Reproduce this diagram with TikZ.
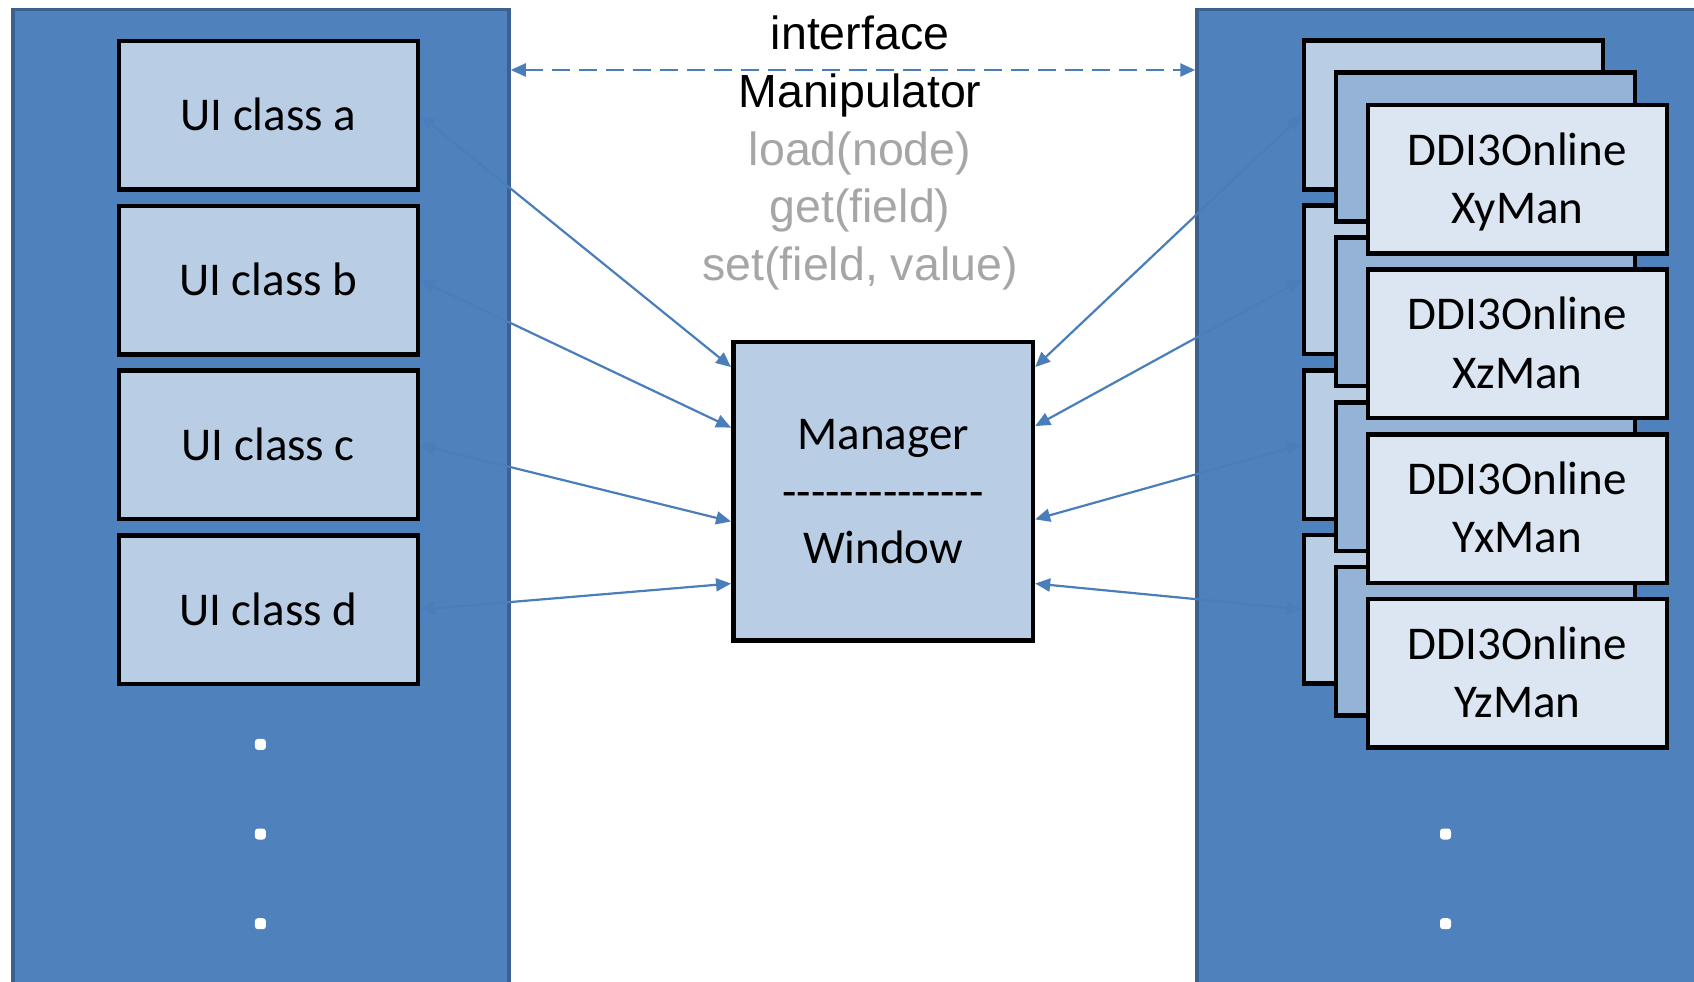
\documentclass[tikz,border=0pt]{standalone}
\usepackage{fontspec}
\setmainfont{Carlito}
\newfontfamily\arialf{Liberation Sans}
\usetikzlibrary{arrows.meta,calc}
\definecolor{panelfill}{HTML}{4F81BD}
\definecolor{panelline}{HTML}{3A6190}
\definecolor{boxA}{HTML}{B9CDE5}
\definecolor{boxB}{HTML}{95B3D7}
\definecolor{boxC}{HTML}{DCE6F2}
\definecolor{conn}{HTML}{4A7EBB}
\definecolor{graytxt}{HTML}{A6A6A6}
\newcommand\hy{\mbox{-}}
\begin{document}
\begin{tikzpicture}[x=1pt,y=-1pt,
  panel/.style={fill=panelfill,draw=panelline,line width=3.5pt,inner sep=0pt},
  cbox/.style={draw=black,line width=4.5pt,minimum width=299pt,minimum height=148.5pt,inner sep=0pt,fill=#1},
  cal/.style={font=\fontsize{47}{57}\selectfont,inner sep=0pt},
  arl/.style={font=\arialf\fontsize{46.5}{56}\selectfont,inner sep=0pt,anchor=base},
  lbl/.style={cal,anchor=base},
  connector/.style={draw=conn,line width=2.2pt,{Triangle[length=15pt,width=13pt]}-{Triangle[length=15pt,width=13pt]}},
  dashconn/.style={connector,line width=2.5pt,dash pattern=on 18pt off 9pt},
  dotn/.style={fill=white,inner sep=0pt,minimum size=11pt,rounded corners=3pt}
]
\useasboundingbox (0,0) rectangle (1694,982);
\clip (0,0) rectangle (1694,982);

% panels
\node[panel,minimum width=496pt,minimum height=990pt] (lp) at (261,504.5) {};
\node[panel,minimum width=523pt,minimum height=990pt] (rp) at (1458.5,504.5) {};

% UI class boxes
\foreach \t [count=\i from 0] in {a,b,c,d}{
  \node[cbox=boxA,cal,text height=31pt,text depth=0pt] (ui\i) at (268.25,115.2+164.8*\i) {UI class \t};
}

% stacked manager boxes
\foreach \i in {0,1,2,3}{
  \node[cbox=boxA] (bk\i) at (1453.6,115+164.8*\i) {};
}
\foreach \i in {0,1,2,3}{
  \node[cbox=boxB] (md\i) at (1485.4,147+164.8*\i) {};
}
\foreach \n [count=\i from 0] in {XyMan,XzMan,YxMan,YzMan}{
  \node[cbox=boxC] (fr\i) at (1517.3,179+164.8*\i) {};
  \node[lbl] (fa\i) at (1517.3,165+164.8*\i) {DDI3Online};
  \node[lbl] (fb\i) at (1517.3,223.3+164.8*\i) {\n};
}

% manager window
\node[cbox=boxA,minimum width=299.6pt,minimum height=298.3pt] (mgr) at (883.1,491.2) {};
\node[lbl] (mg1) at (883.1,449.7) {Manager};
\node[lbl] (mg2) at (883.1,507) {\hy\hy\hy\hy\hy\hy\hy\hy\hy\hy\hy\hy\hy\hy};
\node[lbl] (mg3) at (883.1,563.8) {Window};

% interface text
\node[arl] (if1) at (860,50) {interface};
\node[arl] (if2) at (860,107.5) {Manipulator};
\node[arl,text=graytxt] (if3) at (860,165) {load(node)};
\node[arl,text=graytxt] (if4) at (860,222.5) {get(field)};
\node[arl,text=graytxt] (if5) at (860,280) {set(field, value)};

% dashed interface arrow
\coordinate (lvl) at (0,70);
\draw[dashconn] (lp.east |- lvl) -- (rp.west |- lvl);

% connectors
\draw[connector] (ui0.east) -- ($(mgr.north west)!0.09!(mgr.south west)$);
\draw[connector] (ui1.east) -- ($(mgr.north west)!0.29!(mgr.south west)$);
\draw[connector] (ui2.east) -- ($(mgr.north west)!0.6!(mgr.south west)$);
\draw[connector] (ui3.east) -- ($(mgr.north west)!0.805!(mgr.south west)$);
\draw[connector] (bk0.west) -- ($(mgr.north east)!0.09!(mgr.south east)$);
\draw[connector] (bk1.west) -- ($(mgr.north east)!0.285!(mgr.south east)$);
\draw[connector] (bk2.west) -- ($(mgr.north east)!0.593!(mgr.south east)$);
\draw[connector] (bk3.west) -- ($(mgr.north east)!0.805!(mgr.south east)$);

% dots
\node[dotn] (ld1) at (260.4,744.4) {};
\node[dotn] (ld2) at (260.4,834) {};
\node[dotn] (ld3) at (260.4,923.7) {};
\node[dotn] (rd1) at (1445.5,834) {};
\node[dotn] (rd2) at (1445.5,923.7) {};
\end{tikzpicture}
\end{document}
